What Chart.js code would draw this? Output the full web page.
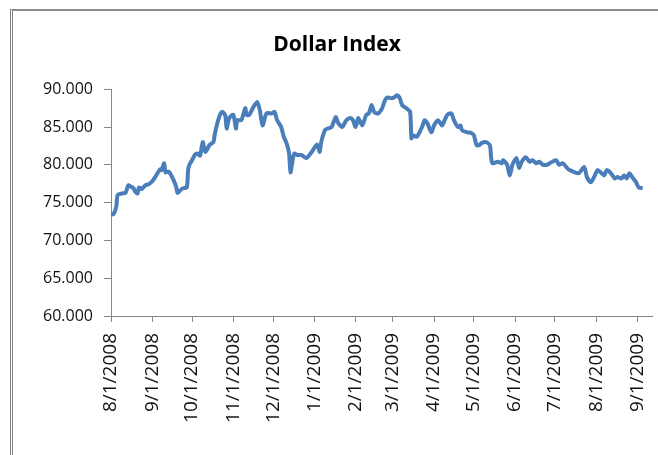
<!DOCTYPE html>
<html>
<head>
<meta charset="utf-8">
<title>Dollar Index</title>
<script src="https://cdn.jsdelivr.net/npm/chart.js@4.4.1/dist/chart.umd.min.js"></script>
<style>
    html, body { margin: 0; padding: 0; background: #fff; }
    #wrap { position: relative; width: 658px; height: 455px; overflow: hidden; }
    /* the chart frame, cut off on the right and bottom like in the screenshot */
    .frame {
        position: absolute; left: 10px; top: 9px; width: 680px; height: 480px;
        border-left: 3px double #7f7f7f; border-top: 2px solid #8c8c8c;
    }
    #chart { position: absolute; left: 0; top: 0; }
</style>
</head>
<body>
<div id="wrap">
    <div class="frame"></div>
    <canvas id="chart" width="658" height="455"></canvas>
</div>
<script>
// days counted from 8/1/2008
const startDate = new Date(2008, 7, 1);
const lastDay = 407;

const dayOffsets = [
    0, 2, 4, 5, 8, 11, 13, 15, 17, 18, 20, 21, 23, 26, 28, 31, 33, 35, 37, 38,
    40, 41, 43, 44, 47, 49, 50, 52, 54, 57, 58, 59, 61, 63, 65, 67, 69, 71, 74, 77,
    78, 80, 82, 84, 86, 87, 89, 92, 94, 95, 98, 101, 102, 104, 107, 110, 112, 114, 117, 121,
    123, 125, 128, 130, 132, 134, 135, 137, 138, 140, 143, 147, 151, 155, 157, 158, 161, 163, 166, 169,
    171, 174, 177, 180, 182, 184, 186, 189, 192, 194, 196, 198, 201, 204, 206, 208, 211, 213, 215, 217,
    219, 222, 225, 226, 227, 230, 234, 236, 238, 241, 243, 246, 249, 251, 253, 256, 258, 261, 263, 264,
    268, 271, 273, 275, 277, 279, 282, 285, 286, 287, 291, 294, 295, 298, 300, 302, 305, 307, 309, 312,
    315, 317, 320, 322, 325, 328, 330, 332, 335, 337, 340, 343, 345, 349, 352, 356, 358, 361, 364, 366,
    369, 371, 373, 376, 379, 381, 384, 386, 388, 390, 392, 395, 397, 400
];

const dollarIndex = [
    73.4, 73.5, 74.5, 76.0, 76.2, 76.3, 77.3, 77.1, 76.9, 76.5, 76.2, 77.0, 76.8, 77.3, 77.4, 77.8, 78.3, 78.9, 79.4, 79.3,
    80.2, 79.0, 79.1, 79.0, 78.0, 77.1, 76.3, 76.6, 76.9, 77.0, 79.3, 80.0, 80.6, 81.3, 81.5, 81.2, 83.0, 81.7, 82.6, 83.0,
    84.0, 85.5, 86.6, 87.0, 86.5, 84.8, 86.2, 86.6, 84.8, 85.9, 85.9, 87.5, 86.6, 86.6, 87.6, 88.3, 87.2, 85.2, 86.8, 86.8,
    87.0, 85.9, 85.0, 83.7, 82.9, 81.5, 79.0, 81.0, 81.5, 81.3, 81.3, 80.9, 81.7, 82.7, 81.7, 82.9, 84.6, 84.8, 85.0, 86.3,
    85.5, 85.0, 85.9, 86.2, 85.9, 85.0, 86.2, 85.2, 86.6, 86.8, 87.9, 87.0, 86.8, 87.5, 88.5, 88.9, 88.8, 88.9, 89.2, 88.9,
    87.9, 87.5, 87.0, 83.5, 83.9, 83.7, 85.0, 85.9, 85.5, 84.3, 85.2, 85.9, 85.2, 85.9, 86.6, 86.8, 85.9, 85.0, 85.2, 84.6,
    84.3, 84.2, 83.9, 82.6, 82.6, 82.9, 83.0, 82.6, 80.9, 80.2, 80.4, 80.2, 80.6, 80.0, 78.6, 80.0, 80.9, 79.6, 80.4, 81.0,
    80.4, 80.6, 80.2, 80.4, 80.0, 80.0, 80.2, 80.4, 80.6, 80.0, 80.2, 79.6, 79.3, 79.0, 78.9, 79.7, 78.4, 77.7, 78.6, 79.3,
    78.9, 78.6, 79.3, 78.9, 78.2, 78.4, 78.2, 78.6, 78.2, 78.9, 78.4, 77.7, 77.0, 76.9
];

const monthTicks = [
    '8/1/2008', '9/1/2008', '10/1/2008', '11/1/2008', '12/1/2008', '1/1/2009', '2/1/2009',
    '3/1/2009', '4/1/2009', '5/1/2009', '6/1/2009', '7/1/2009', '8/1/2009', '9/1/2009'
];

const yTicks = [60, 65, 70, 75, 80, 85, 90];

function dayOf(label) {
    const [m, d, y] = label.split('/').map(Number);
    return Math.round((new Date(y, m - 1, d) - startDate) / 86400000);
}
const tickDays = monthTicks.map(dayOf);

const axisColor = '#868686';
const textColor = '#111';

new Chart(document.getElementById('chart'), {
    type: 'line',
    data: {
        datasets: [{
            label: 'Dollar Index',
            data: dayOffsets.map((d, i) => ({ x: d, y: dollarIndex[i] })),
            borderColor: '#4a7ebb',
            borderWidth: 4,
            pointRadius: 0,
            tension: 0.25,
            fill: false,
        }]
    },
    options: {
        responsive: false,
        animation: false,
        layout: { padding: { left: 22, right: 6, top: 0, bottom: 0 } },
        plugins: {
            legend: { display: false },
            tooltip: { enabled: false },
            title: {
                display: true,
                text: 'Dollar Index',
                color: '#000',
                font: { family: 'Open Sans', size: 21, weight: 'bold' },
                padding: { top: 32, bottom: 32 },
            },
        },
        scales: {
            x: {
                type: 'linear',
                min: 0,
                max: lastDay,
                afterBuildTicks: (axis) => { axis.ticks = tickDays.map(v => ({ value: v })); },
                afterFit: (axis) => {
                    axis.height = 139;
                    axis.paddingLeft = 0;
                    axis.paddingRight = 0;
                },
                grid: { drawOnChartArea: false, drawTicks: true, tickLength: 6, color: axisColor },
                border: { color: axisColor },
                ticks: {
                    autoSkip: false,
                    minRotation: 90,
                    maxRotation: 90,
                    padding: 11,
                    color: textColor,
                    font: { family: 'Open Sans', size: 19 },
                    callback: (v, i) => monthTicks[i],
                },
            },
            y: {
                min: yTicks[0],
                max: yTicks[yTicks.length - 1],
                afterFit: (axis) => { axis.width = 89; },
                grid: { drawOnChartArea: false, drawTicks: true, tickLength: 7, color: axisColor },
                border: { color: axisColor },
                ticks: {
                    stepSize: 5,
                    padding: 11,
                    color: textColor,
                    font: { family: 'Open Sans', size: 16 },
                    callback: (v) => v.toFixed(3),
                },
            },
        },
    },
});
</script>
</body>
</html>
